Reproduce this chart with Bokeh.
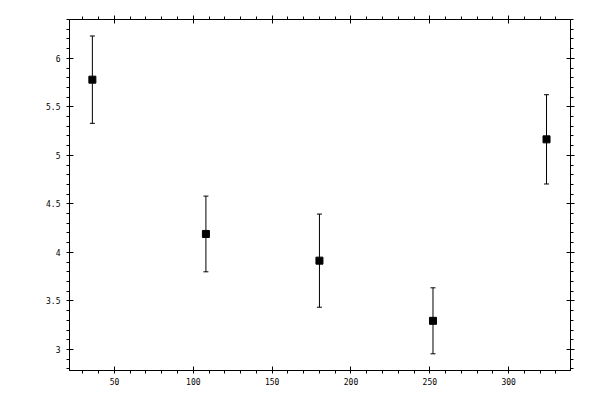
from bokeh.plotting import figure
from bokeh.models import (ColumnDataSource, Whisker, TeeHead, LinearAxis,
                          Range1d, SingleIntervalTicker, CustomJSTickFormatter)
from bokeh.embed import file_html
from bokeh.resources import INLINE

# data
x_vals = [36, 108, 180, 252, 324]
y_vals = [5.78, 4.19, 3.915, 3.295, 5.165]
y_err = [0.45, 0.39, 0.48, 0.34, 0.46]
x_ticks = [50, 100, 150, 200, 250, 300]
y_ticks = [3, 3.5, 4, 4.5, 5, 5.5, 6]

lower = [y - e for y, e in zip(y_vals, y_err)]
upper = [y + e for y, e in zip(y_vals, y_err)]
src = ColumnDataSource(dict(x=x_vals, y=y_vals, lower=lower, upper=upper))

FONT = "DejaVu Sans Mono"

p = figure(width=592, height=392, output_backend="svg", toolbar_location=None,
           x_range=Range1d(21.5, 339.2), y_range=Range1d(2.783, 6.40),
           min_border_left=69, min_border_right=22, min_border_top=19,
           min_border_bottom=22, x_axis_type=None, y_axis_type=None)
p.xgrid.visible = False
p.ygrid.visible = False
p.outline_line_color = "black"
p.outline_line_width = 1
p.background_fill_color = "white"
p.border_fill_color = "white"


def style(ax, labels, mt_in, mt_out):
    ax.axis_line_color = "black"
    ax.axis_line_width = 1
    ax.major_tick_line_color = "black"
    ax.minor_tick_line_color = "black"
    ax.major_tick_in = mt_in
    ax.major_tick_out = mt_out
    ax.minor_tick_in = 0
    ax.minor_tick_out = 3
    ax.major_label_text_font = FONT
    ax.major_label_text_font_size = "8px"
    ax.major_label_text_color = "black"
    ax.major_label_standoff = 6 if labels else 0
    if not labels:
        ax.formatter = CustomJSTickFormatter(code="return ''")


bx = LinearAxis(ticker=SingleIntervalTicker(interval=50, num_minor_ticks=5))
style(bx, True, 4, 1)
bx.major_label_standoff = 4
p.add_layout(bx, "below")

ly = LinearAxis(ticker=SingleIntervalTicker(interval=0.5, num_minor_ticks=5))
style(ly, True, 4, 1)
p.add_layout(ly, "left")

tx = LinearAxis(ticker=SingleIntervalTicker(interval=50, num_minor_ticks=5))
style(tx, False, 4, 4)
p.add_layout(tx, "above")

ry = LinearAxis(ticker=SingleIntervalTicker(interval=0.5, num_minor_ticks=5))
style(ry, False, 4, 4)
p.add_layout(ry, "right")

w = Whisker(base="x", lower="lower", upper="upper", source=src,
            line_color="black", line_width=1,
            upper_head=TeeHead(size=5, line_color="black", line_width=1),
            lower_head=TeeHead(size=5, line_color="black", line_width=1))
p.add_layout(w)

p.scatter("x", "y", source=src, marker="square", size=7,
          fill_color="black", line_color="black")

open("out.html", "w").write(file_html(p, INLINE))
